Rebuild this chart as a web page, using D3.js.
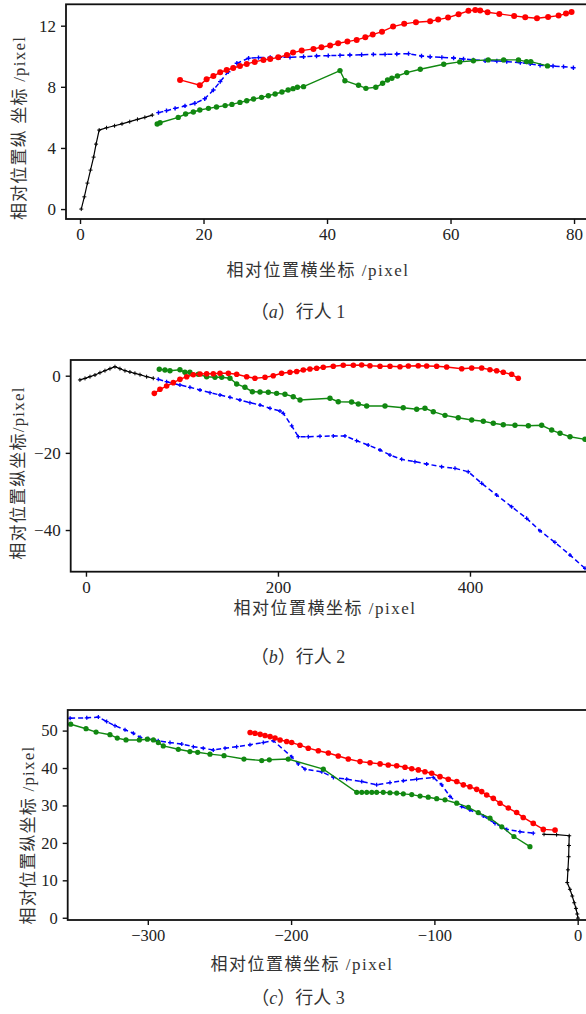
<!DOCTYPE html>
<html>
<head>
<meta charset="utf-8">
<script src="https://cdn.jsdelivr.net/npm/d3@7"></script>
<style>
  body { margin: 0; background: #fff; }
  .axis path, .axis line { stroke: #111; }
  .axis text { fill: #222; }
</style>
</head>
<body>
<div id="chart"></div>
<script>
// ---- panel (a) 行人1 ----
const aBlack = [[0.2,0],[0.7,0.8],[1.2,1.7],[1.7,2.55],[2.2,3.4],[2.6,4.25],[3.1,5.17],[4.3,5.32],[5.6,5.45],[6.8,5.58],[8.05,5.72],[9.3,5.87],[10.5,6.0],[11.7,6.15]];
const aBlue = [[12.7,6.31],[14.0,6.44],[15.4,6.59],[17.0,6.75],[18.6,6.92],[20.2,7.22],[21.6,7.79],[22.7,8.34],[24.0,8.99],[25.4,9.54],[27.3,9.87],[28.9,9.91],[30.8,9.93],[32.4,9.93],[34.0,9.93],[36.2,9.97],[38.3,10.02],[40.2,10.04],[42.1,10.06],[43.7,10.08],[45.6,10.1],[47.5,10.12],[49.4,10.12],[51.3,10.15],[53.2,10.17],[55.3,10.02],[56.7,9.97],[58.6,9.93],[60.5,9.89],[62.1,9.82],[63.7,9.76],[65.6,9.71],[67.5,9.69],[69.1,9.65],[71.3,9.58],[72.9,9.5],[74.5,9.41],[76.6,9.36],[78.3,9.32],[79.9,9.25]];
const aRed = [[16.2,8.45],[19.4,8.1],[20.5,8.5],[21.6,8.7],[22.7,8.95],[23.75,9.1],[24.8,9.23],[25.9,9.36],[27,9.5],[28.3,9.63],[29.7,9.76],[30.8,9.82],[32.1,9.93],[33.5,10.08],[34.5,10.24],[35.9,10.37],[37.8,10.48],[39.1,10.59],[40.5,10.7],[41.8,10.85],[43.3,10.96],[44.8,11.07],[46.2,11.24],[47.4,11.42],[48.9,11.61],[50.7,11.94],[52.5,12.12],[54.4,12.23],[56.7,12.29],[58,12.4],[59.6,12.53],[61.3,12.75],[62.9,12.97],[64,13.03],[64.8,12.99],[66,12.88],[67.9,12.77],[70.3,12.64],[72.1,12.55],[74,12.49],[75.8,12.57],[77.5,12.66],[78.7,12.79],[79.6,12.9]];
const aGreen = [[12.5,5.57],[12.96,5.65],[15.9,6.0],[17.1,6.22],[18.35,6.35],[19.4,6.48],[20.8,6.59],[22.1,6.68],[23.5,6.77],[24.6,6.85],[25.9,6.98],[27,7.09],[28.1,7.2],[29.4,7.31],[30.5,7.42],[31.6,7.53],[32.7,7.66],[33.7,7.79],[34.5,7.88],[35.2,7.97],[36.2,8.01],[42.1,9.06],[42.9,8.4],[45.1,8.1],[46.3,7.9],[47.9,7.97],[49,8.23],[49.8,8.45],[50.5,8.56],[51.4,8.71],[52.9,8.93],[55.1,9.15],[58.9,9.48],[61.5,9.63],[63.7,9.71],[66.1,9.76],[68.6,9.76],[71,9.76],[72.3,9.65],[73,9.65],[75.7,9.37]];
const aXTicks = [0, 20, 40, 60, 80];
const aYTicks = [0, 4, 8, 12];

// ---- panel (b) 行人2 ----
const bBlack = [[-6.3,-1.1],[-1,-0.7],[4.2,-0.25],[9.4,0.18],[14.6,0.78],[19.8,1.3],[25,1.82],[30.2,2.33],[35.4,1.82],[40.6,1.3],[45.8,0.96],[51,0.62],[56.3,0.26],[63.2,-0.26],[70.1,-0.67]];
const bRed = [[71.2,-4.57],[77.1,-3.53],[84,-2.67],[91,-1.8],[97.9,-0.94],[104.9,-0.26],[111.8,0.26],[118.8,0.44],[125.7,0.52],[132.6,0.52],[139.6,0.62],[148.3,0.62],[157,0.36],[167.4,-0.26],[176,-0.67],[186.5,-0.42],[195.1,0],[203.8,0.62],[212.5,0.88],[219.5,1.1],[226.4,1.48],[233.3,1.74],[240.3,1.92],[247.2,2.18],[257.6,2.44],[268,2.7],[278.5,2.7],[287.2,2.77],[295.8,2.59],[306.3,2.44],[316.7,2.44],[327.1,2.33],[335.8,2.51],[346.1,2.59],[354.9,2.51],[365.3,2.44],[375.7,2.25],[391.4,1.81],[401.8,2.0],[412.2,2.0],[420.8,1.56],[427.8,1.3],[434.7,0.88],[443.4,0.36],[450.3,-0.67]];
const bGreen = [[76.4,1.66],[82.3,1.48],[87.5,1.3],[97.9,1.56],[103.1,0.88],[108.3,0.88],[117,0.36],[125.7,-0.26],[134.4,-0.42],[141.4,-0.42],[150,-0.67],[157,-2.15],[165.6,-3.0],[173.3,-4.15],[181.3,-4.23],[189.9,-4.3],[198.6,-4.57],[207.3,-4.82],[215.9,-5.44],[223,-6.3],[254.2,-5.86],[262.8,-6.74],[276.7,-6.82],[283.7,-7.34],[292.4,-7.86],[311.5,-7.86],[330.5,-8.3],[344.5,-8.71],[353.1,-8.45],[361.8,-9.33],[374,-10.27],[387.8,-10.89],[401.8,-11.49],[413.9,-11.82],[424.3,-12.34],[434.7,-12.7],[446.9,-12.86],[460.8,-12.96],[474.7,-12.86],[485.1,-14.08],[493.8,-14.93],[504.2,-15.82],[519.8,-16.49]];
const bBlue = [[75.3,-0.94],[84,-1.55],[97.9,-2.41],[108.3,-3.0],[118.8,-3.7],[129.2,-4.4],[139.6,-5.0],[150,-5.6],[160.4,-6.3],[170.8,-7.0],[181.3,-7.6],[191.7,-8.45],[202.1,-9.15],[205.5,-9.75],[214.3,-13.0],[221.2,-15.8],[231.6,-15.8],[243.8,-15.7],[257.6,-15.6],[269.8,-15.6],[281.9,-16.85],[294,-17.97],[306.3,-19.26],[316.7,-20.56],[328.8,-21.68],[342.7,-22.29],[354.9,-22.89],[370.5,-23.59],[384.4,-24.0],[398.2,-24.89],[412.2,-27.9],[427.8,-30.93],[443.4,-33.96],[459,-36.97],[472.9,-40.19],[488.5,-43.19],[504.2,-46.49],[519.8,-49.93]];
const bXTicks = [0, 200, 400];
const bYTicks = [0, -20, -40];

// ---- panel (c) 行人3 ----
const cBlue = [[-354.2,53.3],[-342.6,53.4],[-334.5,53.6],[-328.7,52.4],[-322.9,51.3],[-315.9,50.2],[-310.1,49.3],[-305.4,48.2],[-299.6,47.8],[-292.7,47.3],[-284.5,46.8],[-276.3,46.4],[-268.2,45.7],[-261.3,45.3],[-254.3,44.8],[-246.1,45.3],[-238,45.7],[-228.7,46.2],[-219.4,46.8],[-212.4,47.3],[-199.6,43.0],[-195,41.1],[-190.3,39.7],[-178.6,39.0],[-170.5,37.5],[-161.2,37.0],[-150.7,36.4],[-140.3,35.5],[-131,36.1],[-121.7,36.6],[-112.4,37.0],[-100.8,37.5],[-94.9,35.5],[-89.1,32.4],[-81,29.7],[-75.2,28.8],[-65.9,27.2],[-57.7,25.2],[-49.5,23.6],[-40.3,23.0],[-31,22.6]];
const cRed = [[-228.6,49.5],[-225.2,49.3],[-221.6,49.0],[-218.2,48.7],[-214.7,48.4],[-211.2,48.0],[-207.7,47.5],[-203.1,47.1],[-199.6,46.8],[-193.8,46.1],[-188,45.3],[-181,44.6],[-174,44.0],[-167.1,43.2],[-160.1,42.4],[-151.9,41.7],[-144.9,41.4],[-137.9,41.1],[-132.2,40.8],[-126.3,40.6],[-120.5,40.2],[-115.8,39.8],[-111.2,39.5],[-106.6,39.0],[-101.9,38.6],[-96.1,37.7],[-90.3,37.0],[-84.4,36.4],[-79.8,35.5],[-75.2,35.0],[-70.5,34.3],[-67,33.7],[-63.5,32.8],[-58.9,31.9],[-54.2,30.6],[-48.4,29.3],[-42.6,28.1],[-38,26.8],[-31,25.2],[-24,23.6],[-15.8,23.4]];
const cGreen = [[-353.8,51.7],[-343.1,50.5],[-336.1,49.6],[-326.4,48.9],[-321.3,48.0],[-315.2,47.5],[-305.9,47.5],[-300.3,47.7],[-296.1,47.5],[-292.7,46.8],[-289.2,45.9],[-278.7,45.0],[-270.6,44.4],[-265.2,44.2],[-256.6,43.7],[-246.8,43.3],[-232.9,42.4],[-220.5,42.0],[-215.2,42.2],[-202,42.4],[-177.5,39.7],[-154.2,33.5],[-150.7,33.5],[-147.2,33.5],[-143.7,33.5],[-140.3,33.5],[-135.7,33.5],[-131,33.4],[-126.3,33.3],[-121.7,33.1],[-115.8,32.9],[-110,32.5],[-104.3,32.2],[-98.4,31.8],[-92.6,31.5],[-84.4,30.6],[-76.3,29.5],[-69.4,28.1],[-61.2,26.6],[-53,24.3],[-44.5,21.7],[-33.3,19.0]];
const cBlack = [[-23.5,22.3],[-14.7,22.2],[-5.9,21.9],[-6.1,19.3],[-6.3,16.3],[-6.8,12.8],[-7.3,9.4],[-5.4,7.6],[-3.8,5.8],[-2.4,4.0],[-1.2,2.5],[-0.3,1.0],[0.2,-0.1]];
const cXTicks = [-300, -200, -100, 0];
const cYTicks = [0, 10, 20, 30, 40, 50];

const RED = "#ff0000", GREEN = "#118811", BLUE = "#0000ff", BLACK = "#000000";
// latin text in a Times-like serif, Chinese falls through to the CJK font
const FONT = "Liberation Serif, Times New Roman, Times, DejaVu Serif, Noto Sans CJK SC, serif";

const svg = d3.select("#chart").append("svg")
  .attr("width", 586)
  .attr("height", 1014)
  .style("font-family", FONT);

const drawPanel = function (cfg) {
  const x = d3.scaleLinear().domain(cfg.xDomain).range([cfg.left, cfg.right]);
  const y = d3.scaleLinear().domain(cfg.yDomain).range([cfg.bottom, cfg.top]);
  const g = svg.append("g");

  const clipId = "clip-" + cfg.id;
  g.append("clipPath").attr("id", clipId)
    .append("rect")
    .attr("x", cfg.left).attr("y", cfg.top)
    .attr("width", cfg.right - cfg.left).attr("height", cfg.bottom - cfg.top);

  const plot = g.append("g").attr("clip-path", `url(#${clipId})`);
  const line = d3.line().x(d => x(d[0])).y(d => y(d[1]));

  cfg.series.forEach((s) => {
    plot.append("path")
      .attr("d", line(s.data))
      .attr("fill", "none")
      .attr("stroke", s.color)
      .attr("stroke-width", s.width)
      .attr("stroke-dasharray", s.dash || null);

    if (s.marker === "circle") {
      plot.selectAll(null).data(s.data).enter().append("circle")
        .attr("cx", d => x(d[0])).attr("cy", d => y(d[1]))
        .attr("r", s.size)
        .attr("fill", s.color);
    } else {
      plot.selectAll(null).data(s.data).enter().append("path")
        .attr("d", d => {
          const px = x(d[0]), py = y(d[1]), r = s.size;
          return `M${px - r},${py}H${px + r}M${px},${py - r}V${py + r}`;
        })
        .attr("stroke", s.color)
        .attr("stroke-width", s.markerWidth);
    }
  });

  // frame
  g.append("rect")
    .attr("x", cfg.left).attr("y", cfg.top)
    .attr("width", cfg.right - cfg.left).attr("height", cfg.bottom - cfg.top)
    .attr("fill", "none").attr("stroke", "#111").attr("stroke-width", 1.8);

  const styleAxis = (a) => {
    a.attr("font-family", null).attr("font-size", null);
    a.select(".domain").remove();
    a.selectAll("line").attr("stroke-width", 1.4);
    a.selectAll("text").style("font-family", FONT).style("font-size", cfg.tickFont + "px");
  };

  g.append("g")
    .attr("class", "axis")
    .attr("transform", `translate(0, ${cfg.bottom})`)
    .call(d3.axisBottom(x).tickValues(cfg.xTicks).tickSize(5).tickPadding(4).tickSizeOuter(0))
    .call(styleAxis);

  g.append("g")
    .attr("class", "axis")
    .attr("transform", `translate(${cfg.left}, 0)`)
    .call(d3.axisLeft(y).tickValues(cfg.yTicks).tickSize(5).tickPadding(5).tickSizeOuter(0))
    .call(styleAxis);

  g.append("text")
    .attr("x", cfg.xLabelPos[0]).attr("y", cfg.xLabelPos[1])
    .attr("text-anchor", "middle")
    .style("font-size", "17px")
    .attr("letter-spacing", 1.5)
    .attr("fill", "#333")
    .text("相对位置横坐标 /pixel");

  g.append("text")
    .attr("transform", `translate(${cfg.yLabelPos[0]}, ${cfg.yLabelPos[1]}) rotate(-90)`)
    .attr("text-anchor", "middle")
    .attr("dy", "0.35em")
    .style("font-size", "17px")
    .attr("letter-spacing", 1.2)
    .attr("fill", "#333")
    .text(cfg.yLabel);

  const cap = g.append("text")
    .attr("x", 298).attr("y", cfg.captionY)
    .attr("text-anchor", "middle")
    .style("font-size", "18px")
    .attr("fill", "#333");
  cap.append("tspan").text("（");
  cap.append("tspan").attr("font-style", "italic").text(cfg.letter);
  cap.append("tspan").text("）行人 " + cfg.num);
};

drawPanel({
  id: "a", left: 66, right: 587, top: 4.3, bottom: 219,
  xDomain: [-2.27, 82.1], yDomain: [-0.65, 13.4],
  xTicks: aXTicks, yTicks: aYTicks, tickFont: 17,
  xLabelPos: [318, 276], yLabelPos: [19, 128], yLabel: "相对位置纵 坐标 /pixel",
  captionY: 318, letter: "a", num: "1",
  series: [
    { data: aBlack, color: BLACK, width: 1.2, marker: "plus", size: 2, markerWidth: 1 },
    { data: aBlue, color: BLUE, width: 1.5, dash: "5,3", marker: "plus", size: 2.2, markerWidth: 1.4 },
    { data: aGreen, color: GREEN, width: 1.4, marker: "circle", size: 2.7 },
    { data: aRed, color: RED, width: 1.4, marker: "circle", size: 3 }
  ]
});

drawPanel({
  id: "b", left: 70.7, right: 587, top: 360, bottom: 571.7,
  xDomain: [-15.9, 521.9], yDomain: [-50.8, 4.07],
  xTicks: bXTicks, yTicks: bYTicks, tickFont: 17,
  xLabelPos: [325, 614], yLabelPos: [18, 473], yLabel: "相对位置纵坐标/pixel",
  captionY: 663, letter: "b", num: "2",
  series: [
    { data: bBlack, color: BLACK, width: 1.2, marker: "plus", size: 2, markerWidth: 1 },
    { data: bBlue, color: BLUE, width: 1.5, dash: "5,3", marker: "plus", size: 2, markerWidth: 1.3 },
    { data: bGreen, color: GREEN, width: 1.4, marker: "circle", size: 2.7 },
    { data: bRed, color: RED, width: 1.4, marker: "circle", size: 2.8 }
  ]
});

drawPanel({
  id: "c", left: 67.7, right: 587, top: 710, bottom: 920,
  xDomain: [-355.9, 6.5], yDomain: [-0.6, 55.5],
  xTicks: cXTicks, yTicks: cYTicks, tickFont: 16.5,
  xLabelPos: [302, 970], yLabelPos: [28, 835], yLabel: "相对位置纵坐标 /pixel",
  captionY: 1004, letter: "c", num: "3",
  series: [
    { data: cBlack, color: BLACK, width: 1.2, marker: "plus", size: 2, markerWidth: 1 },
    { data: cBlue, color: BLUE, width: 1.5, dash: "5,3", marker: "plus", size: 2, markerWidth: 1.3 },
    { data: cGreen, color: GREEN, width: 1.4, marker: "circle", size: 2.6 },
    { data: cRed, color: RED, width: 1.4, marker: "circle", size: 2.8 }
  ]
});
</script>
</body>
</html>
